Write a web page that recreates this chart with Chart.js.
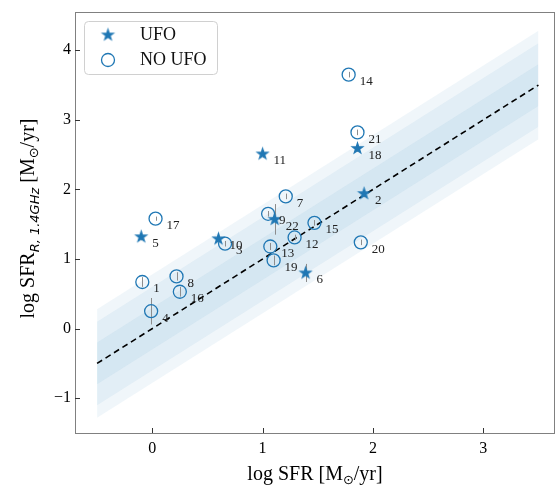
<!DOCTYPE html>
<html lang="en">
<head>
<meta charset="UTF-8">
<title>SFR radio vs SFR</title>
<script src="https://cdn.jsdelivr.net/npm/chart.js"></script>
<style>
  html, body { margin: 0; padding: 0; background: #fff; }
</style>
</head>
<body>
<canvas id="sfrChart" width="556" height="486"></canvas>
<script>
// galaxies with a UFO
const ufoIds   = [2, 5, 6, 10, 11, 18, 22];
const ufoSfr   = [1.92, -0.10, 1.39, 0.60, 1.00, 1.86, 1.11];
const ufoRadio = [1.94, 1.32, 0.80, 1.29, 2.51, 2.59, 1.57];
const ufoErr   = [0.05, 0.05, 0.13, 0.05, 0.05, 0.05, 0.22];

// galaxies without one
const noUfoIds   = [1, 3, 4, 7, 8, 9, 12, 13, 14, 15, 16, 17, 19, 20, 21];
const noUfoSfr   = [-0.09, 0.66, -0.01, 1.21, 0.22, 1.05, 1.29, 1.07, 1.78, 1.47, 0.25, 0.03, 1.10, 1.89, 1.86];
const noUfoRadio = [0.67, 1.22, 0.25, 1.90, 0.75, 1.65, 1.31, 1.18, 3.65, 1.52, 0.53, 1.58, 0.98, 1.24, 2.82];
const noUfoErr   = [0.07, 0.04, 0.19, 0.04, 0.06, 0.04, 0.04, 0.05, 0.04, 0.04, 0.07, 0.03, 0.07, 0.04, 0.04];

// 1:1 relation and its scatter bands
const fitRange = [-0.5, 3.5];
const scatterWidths = [0.3, 0.6, 0.78];

const xTicks = [0, 1, 2, 3];
const yTicks = [-1, 0, 1, 2, 3, 4];

const BLUE = '#1f77b4';
const SERIF = '"Liberation Serif", "DejaVu Serif", serif';

function makeStar(r, color) {
    const c = document.createElement('canvas');
    const s = Math.ceil(r * 2) + 2;
    c.width = s; c.height = s;
    const g = c.getContext('2d');
    g.beginPath();
    for (let k = 0; k < 10; k++) {
        const rad = k % 2 ? r * 0.39 : r;
        const a = -Math.PI / 2 + k * Math.PI / 5;
        g.lineTo(s / 2 + rad * Math.cos(a), s / 2 + rad * Math.sin(a));
    }
    g.closePath();
    g.fillStyle = color;
    g.fill();
    return c;
}
const starImg = makeStar(7.5, BLUE);

const pts = (xs, ys) => xs.map((v, i) => ({ x: v, y: ys[i] }));
const lineAt = off => fitRange.map(v => ({ x: v, y: v + off }));

let datasets = [
    { label: 'UFO', data: pts(ufoSfr, ufoRadio), pointStyle: starImg, pointRadius: 7.5 },
    { label: 'NO UFO', data: pts(noUfoSfr, noUfoRadio), pointStyle: 'circle', pointRadius: 6.5,
      backgroundColor: 'rgba(0,0,0,0)', borderColor: BLUE, borderWidth: 1.3 },
    { label: '1:1', data: lineAt(0), showLine: true, pointRadius: 0, borderColor: '#000',
      borderWidth: 1.6, borderDash: [6, 4], fill: false }
];
scatterWidths.forEach(w => {
    const lowerIndex = datasets.length + 1;
    datasets.push({ data: lineAt(w), showLine: true, pointRadius: 0, borderWidth: 0,
                    fill: { target: lowerIndex }, backgroundColor: 'rgba(31,119,180,0.065)' });
    datasets.push({ data: lineAt(-w), showLine: true, pointRadius: 0, borderWidth: 0, fill: false });
});

// error bars under the markers
const errorBars = {
    id: 'errorBars',
    beforeDatasetDraw(chart, args) {
        if (args.index !== 1) return;
        const ctx = chart.ctx, xs = chart.scales.x, ys = chart.scales.y;
        ctx.save();
        ctx.strokeStyle = '#8c8c8c';
        ctx.lineWidth = 1;
        [[ufoSfr, ufoRadio, ufoErr], [noUfoSfr, noUfoRadio, noUfoErr]].forEach(([sx, sy, se]) => {
            sx.forEach((v, i) => {
                const px = Math.round(xs.getPixelForValue(v)) + 0.5;
                ctx.beginPath();
                ctx.moveTo(px, ys.getPixelForValue(sy[i] - se[i]));
                ctx.lineTo(px, ys.getPixelForValue(sy[i] + se[i]));
                ctx.stroke();
            });
        });
        ctx.restore();
    }
};

// frame, inward ticks, id labels, axis titles, legend
const decorations = {
    id: 'decorations',
    afterDatasetsDraw(chart) {
        const ctx = chart.ctx, xs = chart.scales.x, ys = chart.scales.y;
        ctx.save();
        ctx.fillStyle = '#222';
        ctx.font = '13px ' + SERIF;
        ctx.textBaseline = 'middle';
        [[ufoIds, ufoSfr, ufoRadio], [noUfoIds, noUfoSfr, noUfoRadio]].forEach(([ids, sx, sy]) => {
            ids.forEach((id, i) => {
                ctx.fillText(String(id), xs.getPixelForValue(sx[i]) + 11, ys.getPixelForValue(sy[i]) + 7);
            });
        });
        ctx.restore();
    },
    afterDraw(chart) {
        const ctx = chart.ctx, a = chart.chartArea;
        const xs = chart.scales.x, ys = chart.scales.y;
        ctx.save();
        ctx.strokeStyle = '#808080';
        ctx.lineWidth = 1;
        ctx.strokeRect(Math.round(a.left) + 0.5, Math.round(a.top) + 0.5,
                       Math.round(a.right - a.left) - 1, Math.round(a.bottom - a.top));
        ctx.strokeStyle = '#333';
        xTicks.forEach(v => {
            const px = Math.round(xs.getPixelForValue(v)) + 0.5;
            ctx.beginPath(); ctx.moveTo(px, a.bottom); ctx.lineTo(px, a.bottom - 5); ctx.stroke();
        });
        yTicks.forEach(v => {
            const py = Math.round(ys.getPixelForValue(v)) + 0.5;
            ctx.beginPath(); ctx.moveTo(a.left, py); ctx.lineTo(a.left + 5, py); ctx.stroke();
        });

        // x title
        ctx.fillStyle = '#000';
        ctx.textBaseline = 'alphabetic';
        const big = '20px ' + SERIF, small = '13px "DejaVu Sans", sans-serif';
        const xParts = [['log SFR [M', big, 0], ['\u2299', small, 4], ['/yr]', big, 0]];
        drawParts(ctx, xParts, (a.left + a.right) / 2, 480, 0);

        // y title
        const yParts = [['log SFR', big, 0], ['R, 1.4GHz', 'italic 13px "DejaVu Sans", sans-serif', 5],
                        [' [M', big, 0], ['\u2299', small, 4], ['/yr]', big, 0]];
        drawParts(ctx, yParts, 34, (a.top + a.bottom) / 2 - 4, -Math.PI / 2);

        // legend box
        const lx = 84, ly = 21, lw = 133, lh = 53;
        ctx.beginPath();
        ctx.roundRect(lx + 0.5, ly + 0.5, lw, lh, 4);
        ctx.fillStyle = 'rgba(255,255,255,0.8)';
        ctx.fill();
        ctx.strokeStyle = '#d0d0d0';
        ctx.stroke();
        ctx.drawImage(starImg, 108 - starImg.width / 2, 35 - starImg.height / 2);
        ctx.beginPath();
        ctx.arc(108, 60, 6.5, 0, Math.PI * 2);
        ctx.strokeStyle = BLUE;
        ctx.lineWidth = 1.3;
        ctx.stroke();
        ctx.fillStyle = '#111';
        ctx.font = '18px ' + SERIF;
        ctx.textBaseline = 'middle';
        ctx.fillText('UFO', 140, 35);
        ctx.fillText('NO UFO', 140, 60);
        ctx.restore();
    }
};

function drawParts(ctx, parts, cx, cy, rot) {
    let total = 0;
    parts.forEach(p => { ctx.font = p[1]; total += ctx.measureText(p[0]).width; });
    ctx.save();
    ctx.translate(cx, cy);
    ctx.rotate(rot);
    let x = -total / 2;
    parts.forEach(p => {
        ctx.font = p[1];
        ctx.fillText(p[0], x, p[2]);
        x += ctx.measureText(p[0]).width;
    });
    ctx.restore();
}

const tickFmt = v => (v < 0 ? '\u2212' + Math.abs(v) : String(v));

new Chart(document.getElementById('sfrChart'), {
    type: 'scatter',
    data: { datasets: datasets },
    options: {
        responsive: false,
        animation: false,
        events: [],
        layout: { autoPadding: false, padding: { top: 12, right: 1, left: 0, bottom: 0 } },
        plugins: { legend: { display: false }, tooltip: { enabled: false } },
        scales: {
            x: {
                type: 'linear', min: -0.7, max: 3.65,
                afterBuildTicks: s => { s.ticks = xTicks.map(v => ({ value: v })); },
                afterFit: s => { s.height = 53; s.paddingLeft = 0; s.paddingRight = 0; },
                grid: { display: false, drawTicks: false },
                border: { display: false },
                ticks: { padding: 6, color: '#000', callback: tickFmt, font: { family: SERIF, size: 16 } }
            },
            y: {
                type: 'linear', min: -1.5, max: 4.55,
                afterBuildTicks: s => { s.ticks = yTicks.map(v => ({ value: v })); },
                afterFit: s => { s.width = 75; s.paddingTop = 0; s.paddingBottom = 0; },
                grid: { display: false, drawTicks: false },
                border: { display: false },
                ticks: { padding: 4, color: '#000', callback: tickFmt, font: { family: SERIF, size: 16 } }
            }
        }
    },
    plugins: [errorBars, decorations]
});
</script>
</body>
</html>
